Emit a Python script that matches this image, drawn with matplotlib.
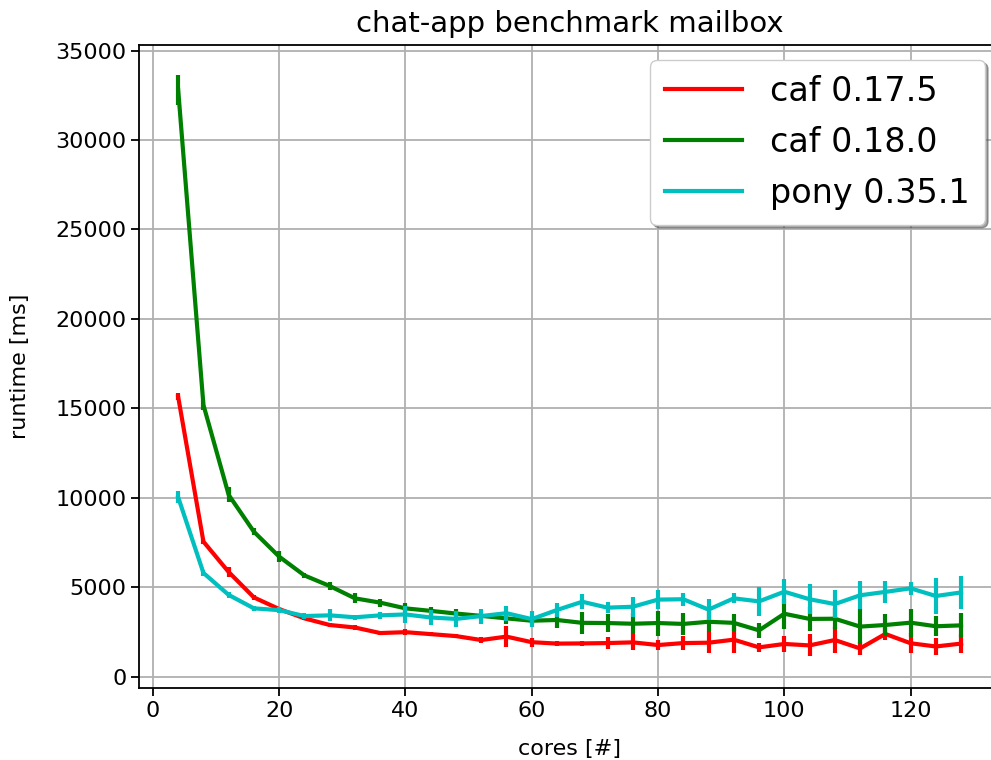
import matplotlib
matplotlib.use("Agg")
import matplotlib.pyplot as plt

cores = [4, 8, 12, 16, 20, 24, 28, 32, 36, 40, 44, 48, 52, 56, 60, 64,
         68, 72, 76, 80, 84, 88, 92, 96, 100, 104, 108, 112, 116, 120, 124, 128]

caf_0175 = [15640, 7550, 5850, 4430, 3780, 3260, 2890, 2750, 2440, 2490, 2380, 2270,
            2050, 2240, 1930, 1850, 1860, 1880, 1920, 1770, 1880, 1900, 2070, 1640,
            1830, 1750, 2050, 1580, 2390, 1870, 1690, 1850]
caf_0175_err = [200, 120, 300, 150, 100, 100, 100, 120, 100, 150, 120, 100,
                190, 580, 250, 120, 150, 350, 450, 280, 400, 600, 750, 260,
                450, 620, 720, 350, 330, 570, 490, 540]

caf_0180 = [32800, 15190, 10160, 8100, 6710, 5660, 5070, 4380, 4140, 3820, 3680, 3530,
            3400, 3260, 3130, 3170, 3010, 3000, 2960, 3000, 2950, 3070, 3010, 2590,
            3520, 3230, 3240, 2800, 2890, 3020, 2820, 2870]
caf_0180_err = [840, 300, 420, 200, 300, 150, 200, 280, 230, 280, 230, 280,
                150, 300, 200, 420, 620, 510, 600, 700, 600, 560, 470, 420,
                840, 650, 600, 980, 600, 790, 560, 670]

pony_0351 = [10030, 5800, 4570, 3820, 3720, 3390, 3430, 3320, 3430, 3480, 3310, 3230,
             3390, 3550, 3220, 3730, 4190, 3860, 3910, 4310, 4330, 3750, 4380, 4210,
             4750, 4330, 4060, 4550, 4740, 4940, 4510, 4710]
pony_0351_err = [330, 150, 150, 150, 150, 150, 340, 150, 200, 470, 440, 460,
                 420, 420, 460, 370, 420, 300, 560, 510, 370, 580, 280, 790,
                 700, 840, 790, 790, 600, 370, 1020, 930]

series = [
    ("caf 0.17.5", caf_0175, caf_0175_err, "r"),
    ("caf 0.18.0", caf_0180, caf_0180_err, "g"),
    ("pony 0.35.1", pony_0351, pony_0351_err, "c"),
]

fig = plt.figure(figsize=(9.91, 7.6), dpi=100)
ax = fig.add_axes([0.1403, 0.0943, 0.869, 0.8465])

for label, vals, err, col in series:
    ax.plot(cores, vals, color=col, lw=3, label=label)
    ax.errorbar(cores, vals, yerr=err, fmt="none", ecolor=col, elinewidth=3)

ax.set_xlim(-2.2, 134.2)
ax.set_ylim(-650, 35310)
ax.set_xticks([0, 20, 40, 60, 80, 100, 120])
ax.set_yticks([0, 5000, 10000, 15000, 20000, 25000, 30000, 35000])
ax.grid(True, color="#b0b0b0", lw=1.3)
ax.set_axisbelow(True)

ax.tick_params(labelsize=16, length=5.6, width=1.3)
for sp in ax.spines.values():
    sp.set_linewidth(1.3)

ax.set_title("chat-app benchmark mailbox", fontsize=21, pad=9)
ax.set_xlabel("cores [#]", fontsize=16, labelpad=13)
ax.set_ylabel("runtime [ms]", fontsize=16, labelpad=18)

ax.legend(loc="upper right", fontsize=24, shadow=True, fancybox=True,
          handlelength=2.3, handletextpad=0.85, labelspacing=0.54,
          borderpad=0.45, borderaxespad=0.45)

fig.savefig("out.png", dpi=100)
